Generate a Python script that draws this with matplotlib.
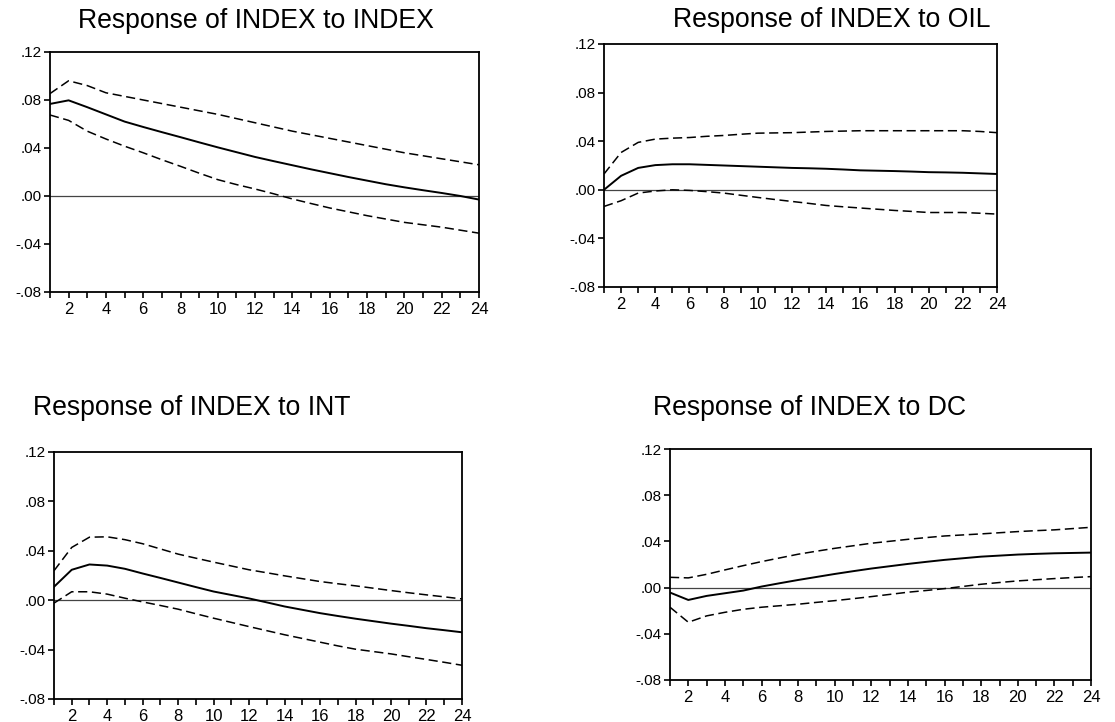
import matplotlib
matplotlib.use("Agg")
import matplotlib.pyplot as plt
from matplotlib.ticker import FixedLocator, FuncFormatter

plt.rcParams["font.family"] = ["Liberation Sans", "DejaVu Sans"]

steps = list(range(1, 25))

# Response of INDEX to INDEX
index_mid = [0.0767, 0.0797, 0.0740, 0.0680, 0.0620, 0.0575, 0.0532, 0.0490, 0.0447, 0.0405,
             0.0365, 0.0325, 0.0290, 0.0256, 0.0222, 0.0190, 0.0158, 0.0128, 0.0098, 0.0072,
             0.0048, 0.0025, 0.0000, -0.0030]
index_hi = [0.0853, 0.0960, 0.0920, 0.0860, 0.0830, 0.0800, 0.0770, 0.0740, 0.0710, 0.0680,
            0.0645, 0.0610, 0.0575, 0.0540, 0.0510, 0.0480, 0.0450, 0.0420, 0.0390, 0.0360,
            0.0335, 0.0310, 0.0285, 0.0260]
index_lo = [0.0675, 0.0630, 0.0540, 0.0475, 0.0415, 0.0360, 0.0302, 0.0247, 0.0190, 0.0136,
            0.0095, 0.0058, 0.0018, -0.0025, -0.0063, -0.0100, -0.0132, -0.0164, -0.0192, -0.0220,
            -0.0240, -0.0260, -0.0285, -0.0310]

# Response of INDEX to OIL
oil_mid = [0.0000, 0.0115, 0.0180, 0.0203, 0.0210, 0.0210, 0.0205, 0.0200, 0.0195, 0.0190,
           0.0185, 0.0180, 0.0177, 0.0173, 0.0167, 0.0160, 0.0157, 0.0154, 0.0150, 0.0145,
           0.0143, 0.0140, 0.0135, 0.0130]
oil_hi = [0.0130, 0.0307, 0.0390, 0.0417, 0.0425, 0.0430, 0.0440, 0.0447, 0.0457, 0.0466,
          0.0468, 0.0470, 0.0475, 0.0480, 0.0483, 0.0486, 0.0486, 0.0486, 0.0486, 0.0486,
          0.0486, 0.0486, 0.0480, 0.0470]
oil_lo = [-0.0137, -0.0090, -0.0027, -0.0010, 0.0000, -0.0005, -0.0015, -0.0027, -0.0045, -0.0063,
          -0.0080, -0.0096, -0.0112, -0.0129, -0.0140, -0.0150, -0.0160, -0.0170, -0.0178, -0.0187,
          -0.0187, -0.0187, -0.0193, -0.0200]

# Response of INDEX to INT
int_mid = [0.0108, 0.0246, 0.0289, 0.0280, 0.0254, 0.0216, 0.0180, 0.0143, 0.0106, 0.0070,
           0.0042, 0.0014, -0.0018, -0.0051, -0.0078, -0.0105, -0.0128, -0.0150, -0.0170, -0.0190,
           -0.0208, -0.0227, -0.0243, -0.0260]
int_hi = [0.0238, 0.0427, 0.0510, 0.0513, 0.0490, 0.0457, 0.0415, 0.0373, 0.0340, 0.0308,
          0.0277, 0.0246, 0.0222, 0.0197, 0.0174, 0.0151, 0.0133, 0.0116, 0.0097, 0.0078,
          0.0060, 0.0043, 0.0027, 0.0010]
int_lo = [-0.0024, 0.0068, 0.0068, 0.0049, 0.0016, -0.0014, -0.0043, -0.0073, -0.0110, -0.0146,
          -0.0180, -0.0214, -0.0247, -0.0280, -0.0310, -0.0340, -0.0370, -0.0397, -0.0416, -0.0435,
          -0.0458, -0.0480, -0.0503, -0.0527]

# Response of INDEX to DC
dc_mid = [-0.0043, -0.0107, -0.0072, -0.0049, -0.0026, 0.0009, 0.0038, 0.0066, 0.0092, 0.0118,
          0.0142, 0.0165, 0.0185, 0.0205, 0.0223, 0.0240, 0.0254, 0.0268, 0.0277, 0.0286,
          0.0292, 0.0297, 0.0300, 0.0303]
dc_hi = [0.0089, 0.0084, 0.0115, 0.0153, 0.0190, 0.0225, 0.0257, 0.0289, 0.0315, 0.0340,
         0.0362, 0.0384, 0.0401, 0.0418, 0.0433, 0.0447, 0.0456, 0.0465, 0.0475, 0.0485,
         0.0493, 0.0500, 0.0511, 0.0522]
dc_lo = [-0.0170, -0.0300, -0.0245, -0.0214, -0.0188, -0.0170, -0.0157, -0.0144, -0.0128, -0.0113,
         -0.0096, -0.0078, -0.0059, -0.0040, -0.0025, -0.0009, 0.0010, 0.0029, 0.0044, 0.0058,
         0.0068, 0.0078, 0.0087, 0.0095]

titles = ["Response of INDEX to INDEX", "Response of INDEX to OIL",
          "Response of INDEX to INT", "Response of INDEX to DC"]
y_ticks = [-0.08, -0.04, 0.00, 0.04, 0.08, 0.12]

panels = [
    (index_mid, index_hi, index_lo, [0.0448, 0.5956, 0.3848, 0.3324], (256, 21, "center")),
    (oil_mid, oil_hi, oil_lo, [0.5417, 0.6025, 0.3525, 0.3366], (832, 20, "center")),
    (int_mid, int_hi, int_lo, [0.0484, 0.0319, 0.3659, 0.3421], (33, 408, "left")),
    (dc_mid, dc_hi, dc_lo, [0.6009, 0.0582, 0.3776, 0.3199], (653, 408, "left")),
]


def fmt_y(v, pos):
    s = f"{v:.2f}"
    return s.replace("0.", ".", 1)


W, H = 1115, 722
fig = plt.figure(figsize=(W / 100, H / 100), dpi=100)

for (mid, hi, lo, rect, (tx, ty, ha)), title in zip(panels, titles):
    ax = fig.add_axes(rect)
    ax.axhline(0, color="#444444", linewidth=0.9)
    ax.plot(steps, hi, color="black", linewidth=1.1, linestyle=(0, (6, 3)))
    ax.plot(steps, lo, color="black", linewidth=1.1, linestyle=(0, (6, 3)))
    ax.plot(steps, mid, color="black", linewidth=1.4)
    ax.set_xlim(1, 24)
    ax.set_ylim(-0.08, 0.12)
    ax.xaxis.set_major_locator(FixedLocator(range(2, 25, 2)))
    ax.xaxis.set_minor_locator(FixedLocator(range(1, 25, 2)))
    ax.set_yticks(y_ticks)
    ax.yaxis.set_major_formatter(FuncFormatter(fmt_y))
    ax.tick_params(axis="x", which="both", direction="out", length=4, width=1.2,
                   labelsize=12, pad=3)
    ax.tick_params(axis="y", direction="out", length=4, width=1.2, labelsize=11, pad=2)
    for sp in ax.spines.values():
        sp.set_linewidth(1.3)
    fig.text(tx / W, 1 - ty / H, title, ha=ha, va="center", fontsize=19.2)

fig.savefig("out.png", dpi=100)
